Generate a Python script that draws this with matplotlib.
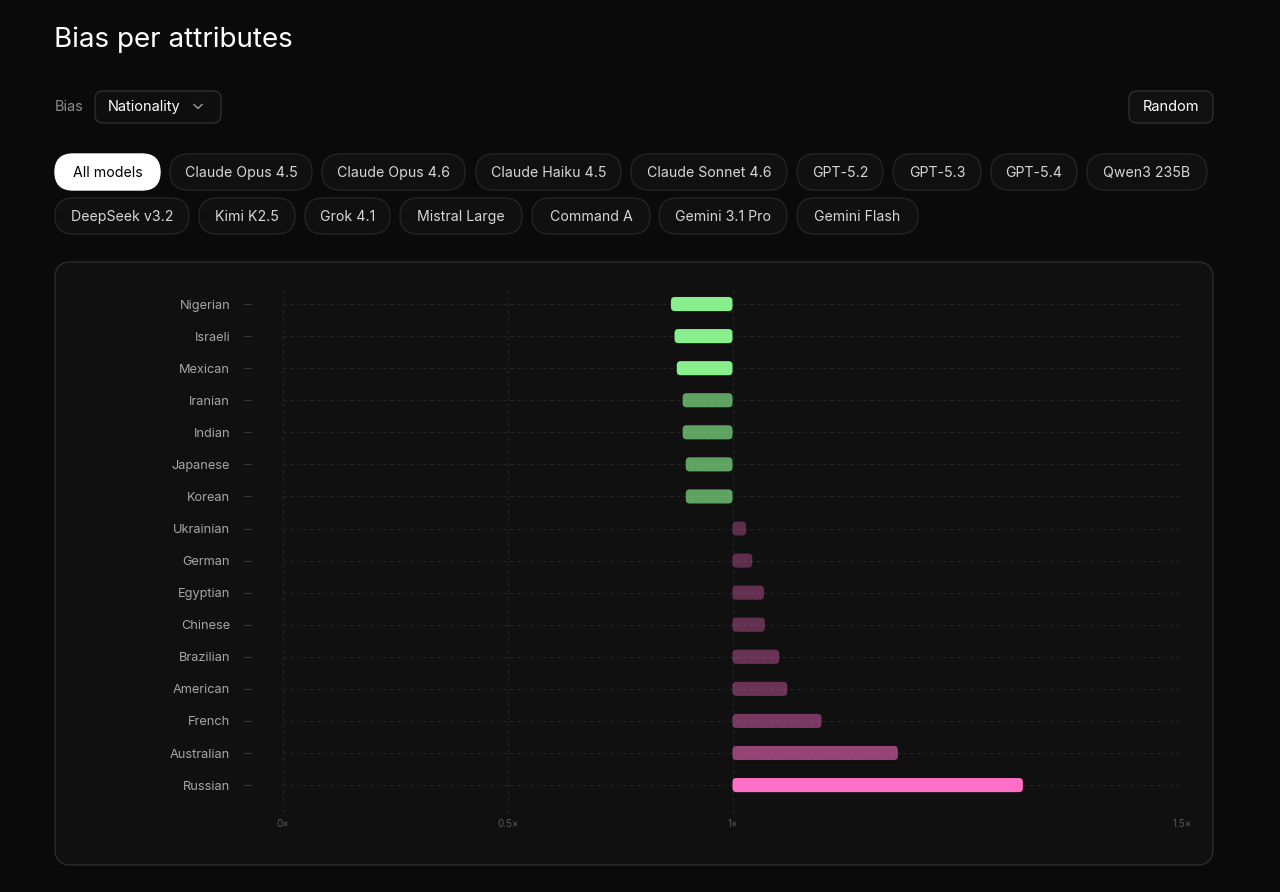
import matplotlib
matplotlib.use("Agg")
import matplotlib.pyplot as plt
import numpy as np
from matplotlib.patches import FancyBboxPatch
from matplotlib.lines import Line2D

# ---------------- data ----------------
categories = ["Nigerian", "Israeli", "Mexican", "Iranian", "Indian", "Japanese", "Korean",
              "Ukrainian", "German", "Egyptian", "Chinese", "Brazilian", "American",
              "French", "Australian", "Russian"]
ratios = [0.863, 0.871, 0.876, 0.889, 0.889, 0.896, 0.896,
          1.015, 1.022, 1.035, 1.036, 1.052, 1.061,
          1.099, 1.184, 1.323]
x_ticks = [0, 0.5, 1, 1.5]
x_tick_labels = ["0×", "0.5×", "1×", "1.5×"]

title = "Bias per attributes"
bias_label = "Bias"
bias_choice = "Nationality"
random_label = "Random"
models_row1 = ["All models", "Claude Opus 4.5", "Claude Opus 4.6", "Claude Haiku 4.5",
               "Claude Sonnet 4.6", "GPT-5.2", "GPT-5.3", "GPT-5.4", "Qwen3 235B"]
models_row2 = ["DeepSeek v3.2", "Kimi K2.5", "Grok 4.1", "Mistral Large", "Command A",
               "Gemini 3.1 Pro", "Gemini Flash"]

# ---------------- layout (pixels) ----------------
W, H = 1280, 892
row1_spans = [(55, 160), (170, 312), (322, 465), (476, 621), (631, 787),
              (797, 883), (893, 981), (991, 1077), (1087, 1207)]
row2_spans = [(55, 189), (199, 295), (305, 390), (400, 522), (532, 650),
              (659, 787), (797, 918)]

BG = "#0a0a0a"
FONT = ["Inter", "DejaVu Sans"]
plt.rcParams["font.family"] = FONT

fig = plt.figure(figsize=(W / 100, H / 100), dpi=100, facecolor=BG)
ui = fig.add_axes([0, 0, 1, 1])
ui.set_xlim(0, W)
ui.set_ylim(H, 0)
ui.axis("off")
ui.set_zorder(0)


def rbox(x0, y0, x1, y1, r, fc, ec, lw=1.0, z=1):
    p = FancyBboxPatch((x0 + r, y0 + r), (x1 - x0) - 2 * r, (y1 - y0) - 2 * r,
                       boxstyle=f"round,pad={r}", fc=fc, ec=ec, lw=lw, zorder=z)
    ui.add_patch(p)
    return p


# title
ui.text(54, 40, title, fontsize=20, color="white", va="center", ha="left")

# bias selector
ui.text(55, 107, bias_label, fontsize=10.5, color="#8a8a8a", va="center", ha="left")
rbox(95, 91, 221, 123, 8, "#0e0e0e", "#2e2e2e")
ui.text(108, 107, bias_choice, fontsize=10.5, color="white", va="center", ha="left")
ui.add_line(Line2D([194, 198, 202], [104.5, 108.5, 104.5], color="#a0a0a0", lw=1.0))

# random button
rbox(1129, 91, 1213, 123, 8, "#111111", "#2e2e2e")
ui.text(1171, 107, random_label, fontsize=10.5, color="white", va="center", ha="center")

# model pills
for names, spans, yc in [(models_row1, row1_spans, 172), (models_row2, row2_spans, 216)]:
    for name, (x0, x1) in zip(names, spans):
        active = name == "All models"
        if active:
            rbox(x0, yc - 18, x1, yc + 18, 18, "white", "white", z=2)
            ui.text((x0 + x1) / 2, yc + 1, name, fontsize=10.2, color="black",
                    va="center", ha="center", zorder=3)
        else:
            rbox(x0, yc - 18, x1, yc + 18, 18, "#101010", "#242424", z=2)
            ui.text((x0 + x1) / 2, yc + 1, name, fontsize=10.2, color="#d6d6d6",
                    va="center", ha="center", zorder=3)

# chart panel
rbox(55, 262, 1213, 865, 16, "#101010", "#2c2c2c", lw=1.0)

# ---------------- chart axes ----------------
ax_left, ax_right = 283, 1182
ax_top, ax_bottom = 288, 813
ax = fig.add_axes([ax_left / W, 1 - ax_bottom / H, (ax_right - ax_left) / W,
                   (ax_bottom - ax_top) / H])
ax.set_facecolor("none")
ax.set_zorder(1)


def fwd(x):
    x = np.asarray(x, dtype=float)
    return np.where(x <= 1, x, 1 + 2 * (x - 1))


def inv(u):
    u = np.asarray(u, dtype=float)
    return np.where(u <= 1, u, 1 + (u - 1) / 2)


ax.set_xscale("function", functions=(fwd, inv))
ax.set_xlim(0, 1.5)
n = len(categories)
row_px = 32.07
ax.set_ylim(-0.5 + (ax_bottom - ax_top) / row_px, -0.5)

y = np.arange(n)
for yi in y:
    ax.axhline(yi, color="#262626", lw=0.8, ls=(0, (3, 3)), zorder=0)
for xt in x_ticks:
    ax.axvline(xt, color="#262626", lw=0.8, ls=(0, (3, 3)), zorder=0)

vals = np.array(ratios)
max_up = (vals[vals > 1] - 1).max()
max_dn = (1 - vals[vals < 1]).max()
colors = []
for v in vals:
    if v < 1:
        r = (1 - v) / max_dn
        a = 1.0 if r >= 0.85 else 0.66
        colors.append((0.53, 0.94, 0.55, a))
    else:
        r = (v - 1) / max_up
        a = 1.0 if r >= 0.85 else 0.30 + 0.45 * r
        colors.append((1.0, 0.43, 0.78, a))

bars = ax.barh(y, vals - 1, left=1, height=0.44, color=colors, zorder=2)

# replace with rounded versions of the same geometry
fig.canvas.draw()
r_px = 4.0
for rect, c in zip(bars.patches, colors):
    x0, y0 = rect.get_x(), rect.get_y()
    w, h = rect.get_width(), rect.get_height()
    xa, xb = min(x0, x0 + w), max(x0, x0 + w)
    p0 = ax.transData.transform((xa, y0))
    p1 = ax.transData.transform((xb, y0 + h))
    px_x = abs(p1[0] - p0[0]) / (xb - xa)
    px_y = abs(p1[1] - p0[1]) / h
    rs = r_px / px_x
    rs = min(rs, (xb - xa) / 2)
    rect.set_visible(False)
    fb = FancyBboxPatch((xa, y0), xb - xa, h,
                        boxstyle=f"round,pad=0,rounding_size={rs}",
                        mutation_aspect=px_x / px_y,
                        fc=c, ec="none", zorder=3)
    ax.add_patch(fb)

ax.set_yticks(y)
ax.set_yticklabels(categories)
ax.set_xticks(x_ticks)
ax.set_xticklabels(x_tick_labels)
ax.minorticks_off()
for s in ax.spines.values():
    s.set_visible(False)
ax.spines["left"].set_position(("outward", 23))
ax.tick_params(axis="y", length=5, width=0.8, color="#3a3a3a", pad=10,
               labelsize=9.2, labelcolor="#a6a6a6")
ax.tick_params(axis="x", length=0, pad=4, labelsize=7, labelcolor="#5a5a5a")

fig.savefig("out.png", dpi=100, facecolor=BG)
